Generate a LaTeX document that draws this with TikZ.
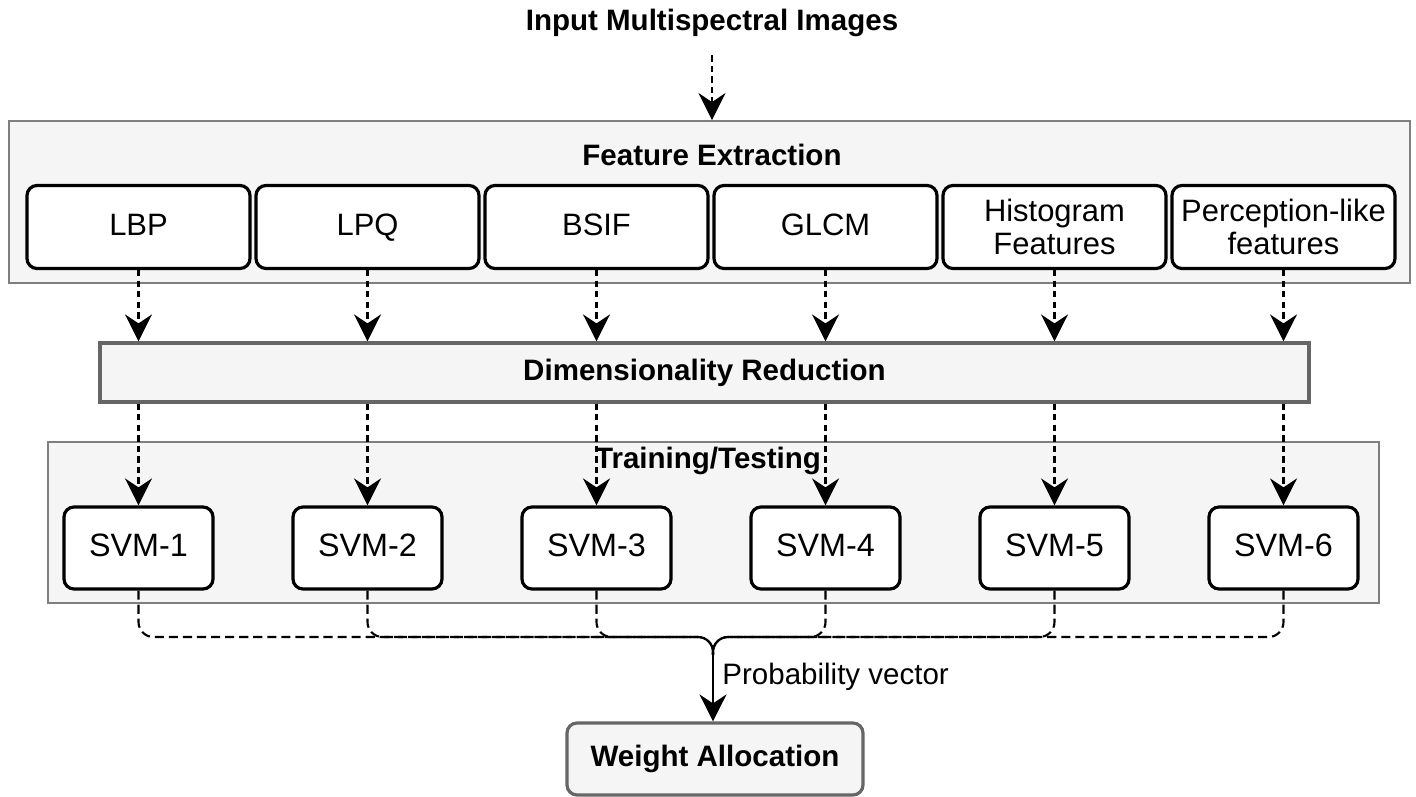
\documentclass[tikz,border=0pt]{standalone}
\usepackage{fontspec}
\setmainfont{Liberation Sans}
\usetikzlibrary{arrows.meta, positioning, calc}
\definecolor{PanelFill}{HTML}{F5F5F5}
\definecolor{PanelLine}{HTML}{7F7F7F}
\definecolor{StageLine}{HTML}{666666}
\tikzset{
    % Node styles
    panelbox/.style={
        rectangle,
        draw=PanelLine,
        fill=PanelFill,
        line width=0.55pt,
        inner sep=0pt
    },
    stagebox/.style={
        rectangle,
        draw=StageLine,
        fill=PanelFill,
        line width=0.9pt,
        inner sep=0pt,
        font=\fontsize{8.4}{9.4}\selectfont\bfseries
    },
    featbox/.style={
        rectangle,
        rounded corners=0.1cm,
        draw=black,
        fill=white,
        line width=0.9pt,
        minimum width=2.23cm,
        minimum height=0.83cm,
        inner sep=0pt,
        align=center,
        font=\fontsize{8.8}{9.6}\selectfont
    },
    onelinebox/.style={
        featbox,
        text height=0.72em,
        text depth=0.22em
    },
    svmbox/.style={
        onelinebox,
        minimum width=1.49cm,
        minimum height=0.82cm,
        font=\fontsize{9.2}{10}\selectfont
    },
    headlabel/.style={
        font=\fontsize{8.4}{9.4}\selectfont\bfseries
    },
    % Arrow styles
    dasharrow/.style={
        -{Stealth[length=0.27cm, width=0.27cm, inset=0.09cm]},
        line width=0.6pt,
        dash pattern=on 1.8pt off 1.2pt
    },
    dashlink/.style={
        line width=0.6pt,
        dash pattern=on 2.6pt off 1.4pt,
        rounded corners=0.15cm
    },
    solidarrow/.style={
        -{Stealth[length=0.27cm, width=0.27cm, inset=0.09cm]},
        line width=0.7pt
    }
}

\begin{document}
\begin{tikzpicture}[font=\fontsize{8.4}{9.4}\selectfont]
    \useasboundingbox (0,0) rectangle (14.16,-7.97);

    % Input
    \node[headlabel] (input) at (7.12,-0.23) {Input Multispectral Images};

    % Feature extraction panel
    \node[panelbox, minimum width=14.01cm, minimum height=1.62cm] (fe) at (7.095,-2.02) {};
    \node[headlabel] (felabel) at (7.12,-1.55) {Feature Extraction};

    \node[onelinebox] (lbp)  at (1.385,-2.27) {LBP};
    \node[onelinebox] (lpq)  at (3.675,-2.27) {LPQ};
    \node[onelinebox] (bsif) at (5.965,-2.27) {BSIF};
    \node[onelinebox] (glcm) at (8.255,-2.27) {GLCM};
    \node[featbox] (hist) at (10.545,-2.27) {Histogram\\Features};
    \node[featbox] (perc) at (12.835,-2.27) {Perception-like\\features};

    % Dimensionality reduction
    \node[stagebox, minimum width=12.09cm, minimum height=0.59cm] (dr) at (7.045,-3.725) {Dimensionality Reduction};

    % Training / testing panel
    \node[panelbox, minimum width=13.31cm, minimum height=1.61cm] (tt) at (7.135,-5.225) {};

    \node[svmbox] (svm1) at (1.385,-5.48) {SVM-1};
    \node[svmbox] (svm2) at (3.675,-5.48) {SVM-2};
    \node[svmbox] (svm3) at (5.965,-5.48) {SVM-3};
    \node[svmbox] (svm4) at (8.255,-5.48) {SVM-4};
    \node[svmbox] (svm5) at (10.545,-5.48) {SVM-5};
    \node[svmbox] (svm6) at (12.835,-5.48) {SVM-6};

    % Weight allocation
    \node[stagebox, rounded corners=0.1cm, minimum width=2.96cm, minimum height=0.72cm] (wa) at (7.15,-7.59) {Weight Allocation};

    \coordinate (merge) at (7.13,-6.55);
    \coordinate (bus) at (7.13,-6.37);

    % Arrows into and out of the reduction step
    \draw[dasharrow] (input.south) ++(0,-0.06) -- (input.south |- fe.north);
    \draw[dasharrow] (lbp.south)  -- (lbp.south |- dr.north);
    \draw[dasharrow] (lpq.south)  -- (lpq.south |- dr.north);
    \draw[dasharrow] (bsif.south) -- (bsif.south |- dr.north);
    \draw[dasharrow] (glcm.south) -- (glcm.south |- dr.north);
    \draw[dasharrow] (hist.south) -- (hist.south |- dr.north);
    \draw[dasharrow] (perc.south) -- (perc.south |- dr.north);

    \draw[dasharrow] (svm1.north |- dr.south) -- (svm1.north);
    \draw[dasharrow] (svm2.north |- dr.south) -- (svm2.north);
    \draw[dasharrow] (svm3.north |- dr.south) -- (svm3.north);
    \draw[dasharrow] (svm4.north |- dr.south) -- (svm4.north);
    \draw[dasharrow] (svm5.north |- dr.south) -- (svm5.north);
    \draw[dasharrow] (svm6.north |- dr.south) -- (svm6.north);

    % Label drawn over the arrows
    \node[headlabel] (ttlabel) at (7.08,-4.61) {Training/Testing};

    % Outputs gathered into one vector
    \draw[dashlink] (svm1.south) -- (svm1.south |- bus) -- (bus) -- (merge);
    \draw[dashlink] (svm2.south) -- (svm2.south |- bus) -- (bus) -- (merge);
    \draw[dashlink] (svm3.south) -- (svm3.south |- bus) -- (bus) -- (merge);
    \draw[dashlink] (svm4.south) -- (svm4.south |- bus) -- (bus) -- (merge);
    \draw[dashlink] (svm5.south) -- (svm5.south |- bus) -- (bus) -- (merge);
    \draw[dashlink] (svm6.south) -- (svm6.south |- bus) -- (bus) -- (merge);

    \draw[solidarrow] (merge) -- (merge |- wa.north);
    \node[anchor=west] (prob) at (7.1,-6.77) {Probability vector};
\end{tikzpicture}
\end{document}
